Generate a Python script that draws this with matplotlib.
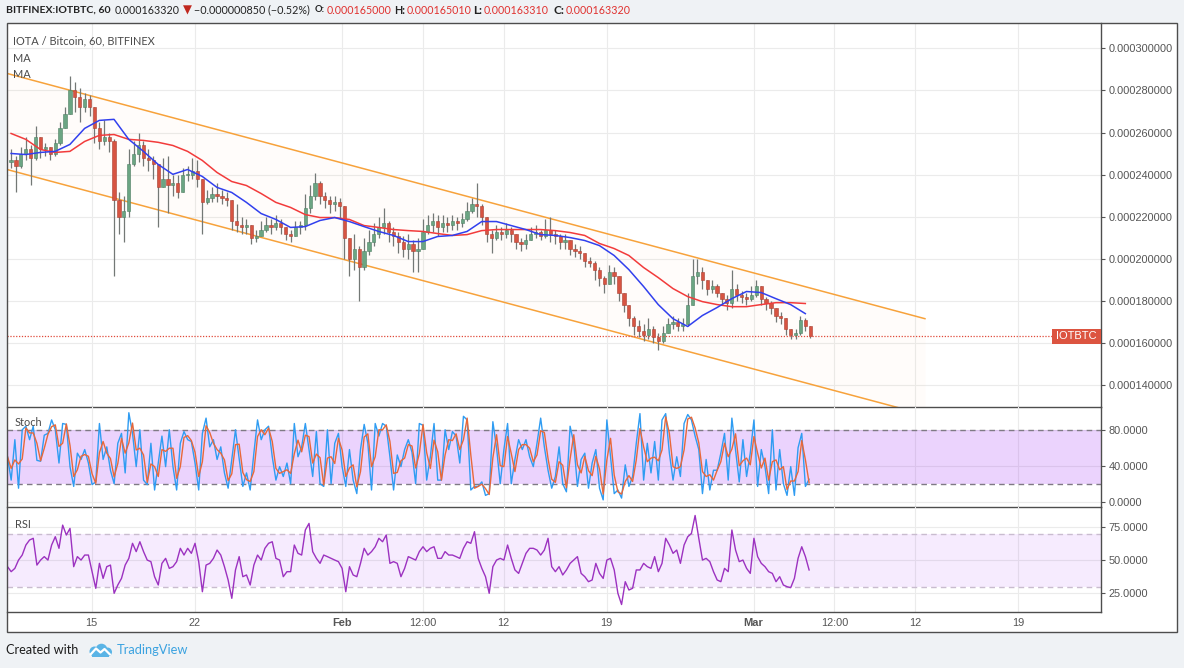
import numpy as np
import pandas as pd
import matplotlib
matplotlib.use("Agg")
import matplotlib.pyplot as plt
from matplotlib.patches import Rectangle, Circle
from matplotlib.ticker import FuncFormatter
import matplotlib.transforms as mtrans

W, H = 1184, 668

# ---------------- data ----------------
price_unit = 1e-6          # values below are in micro-BTC
first_open = 246.0
bar_start_day = 9.517      # day-of-2018 axis (Jan 1 = 1, Feb 1 = 32, Mar 1 = 60)
bar_step_days = 1 / 3      # 8-hour candles

candle_close = [247,244,250,252,248,258,252,253,250,255,
                262,269,280,277,272,276,272,262,256,258,
                256,228,220,223,245,250,254,248,247,245,
                234,238,235,236,232,240,240,242,238,227,
                229,231,230,229,228,218,216,215,216,210,
                211,214,216,215,217,215,212,211,215,216,
                224,230,236,230,228,226,227,225,210,200,
                205,196,204,208,212,215,217,213,211,208,
                205,207,204,205,213,216,218,215,217,216,
                218,217,219,223,226,225,220,212,210,213,
                212,214,212,208,207,209,212,213,211,214,
                212,211,208,209,205,204,203,199,198,195,
                191,188,194,192,184,178,172,168,166,164,
                167,163,161,165,169,170,168,169,178,192,
                194,190,186,187,184,181,179,186,183,182,
                181,183,187,181,179,177,173,172,167,164,
                165,171,168,163.32]
candle_high = [252,249,253,258,254,263,256,255,253,257,
               265,272,287,284,281,279,278,268,265,266,
               260,257,232,230,252,256,260,256,252,249,
               240,248,249,240,240,243,244,248,247,235,
               233,234,236,233,232,224,226,220,219,216,
               214,218,220,219,221,219,215,214,218,218,
               231,235,241,237,232,230,230,229,222,210,
               212,206,210,214,217,220,224,218,215,213,
               211,212,209,210,219,221,222,221,221,220,
               221,220,222,227,229,236,226,217,214,216,
               215,217,215,212,210,212,215,216,214,219,
               220,214,212,212,209,207,206,203,201,199,
               196,192,197,196,190,184,177,173,171,169,
               172,168,165,168,172,173,172,172,184,200,
               200,196,190,190,188,184,183,195,188,185,
               184,187,190,185,182,180,176,175,171,167,
               167,173,172,166]
candle_low = [243,232,243,247,235,247,248,249,247,249,
              254,262,272,270,265,270,268,255,252,254,
              251,192,212,208,220,244,246,244,242,238,
              215,234,222,230,229,234,237,238,234,212,
              226,227,227,226,225,214,213,212,212,207,
              208,211,213,212,214,212,209,208,212,212,
              214,222,228,226,224,222,223,219,200,192,
              195,180,195,202,206,210,212,208,206,203,
              201,200,194,194,205,212,213,211,213,213,
              214,214,215,218,222,220,216,208,203,209,
              209,210,208,205,204,205,209,210,209,210,
              208,207,205,205,202,201,200,196,196,190,
              187,184,189,188,180,175,168,164,163,161,
              162,160,157,160,165,167,166,166,168,180,
              188,186,183,184,182,178,176,177,180,179,
              178,180,182,178,176,174,170,169,164,162,
              162,164,166,162.5]

# moving averages, one value per day (every 3rd candle)
ma_fast = [250.1,249.6,250.6,251.1,254.4,262.0,265.8,266.3,256.8,251.1,
           244.9,240.2,242.5,239.2,234.0,231.6,226.9,221.6,218.8,215.0,
           215.4,218.3,219.7,217.8,215.4,213.1,211.2,208.3,208.3,210.7,
           211.2,213.1,217.8,217.8,215.9,214.0,211.6,211.2,210.2,208.8,
           206.4,201.7,195.0,187.0,178.4,171.7,168.0,173.2,177.0,181.2,
           184.6,184.1,181.2,178.4,174.1]
ma_slow = [259.6,256.8,252.0,250.6,251.1,255.8,258.7,259.1,256.8,256.3,
           255.4,253.9,251.1,246.8,241.1,236.8,234.9,231.1,226.9,224.5,
           221.1,219.7,219.7,218.8,215.9,215.0,214.0,213.5,213.1,212.1,
           211.2,211.6,213.5,214.0,214.0,214.0,214.0,213.5,212.6,211.2,
           207.4,205.0,201.7,196.0,191.2,186.0,182.2,179.8,178.4,177.4,
           177.4,178.4,179.3,179.3,178.9]

channel_days = [9.24, 71.65]
channel_upper = [288.1, 171.7]
channel_lower = [242.5, 126.1]
last_price = 163.32

# oscillators, 6-hour samples
osc_start_day = 9.274
osc_step_days = 0.25
stoch_k = [50,24,69,15,80,84,69,84,46,45,
           74,76,91,80,43,87,86,39,17,54,
           47,58,43,19,22,87,47,61,35,20,
           65,76,32,99,76,39,80,24,19,65,
           13,43,73,39,80,39,13,65,78,69,
           67,43,13,76,93,61,69,47,61,32,
           15,47,80,48,17,32,13,54,91,69,
           80,84,50,24,39,28,43,20,87,50,
           61,87,58,28,78,20,17,80,20,65,
           76,39,17,58,24,9,58,86,65,13,
           87,73,87,84,50,13,52,39,58,69,
           55,20,87,85,24,50,87,24,24,80,
           58,78,73,43,95,91,13,17,17,22,
           7,9,89,60,20,58,87,20,47,69,
           58,69,50,39,65,93,61,35,15,28,
           61,20,11,84,65,17,47,54,15,43,
           58,15,2,91,50,9,13,4,41,17,
           28,65,98,24,65,32,67,24,91,98,
           54,24,50,28,87,97,91,73,58,9,
           47,13,35,35,54,76,24,93,58,22,
           69,28,54,91,17,58,39,9,80,13,
           58,20,7,39,7,60,76,17,25]
rsi_values = [45.2,41.4,43.9,50.2,54.0,61.6,65.4,66.7,46.4,50.2,
              52.8,50.2,61.6,67.9,59.1,76.7,69.2,74.2,45.2,52.8,
              50.2,54.0,54.0,41.4,28.8,47.7,36.3,45.2,46.4,25.0,
              31.3,36.3,46.4,51.5,62.9,56.6,64.1,56.6,50.2,49.0,
              37.6,31.3,47.7,51.5,43.9,45.2,49.0,59.1,54.0,59.1,
              55.3,62.9,49.0,26.2,46.4,47.7,51.5,57.8,54.0,45.2,
              35.1,21.2,42.7,52.8,37.6,38.9,31.3,46.4,54.0,50.2,
              59.1,62.9,64.1,51.5,50.2,37.6,41.4,41.4,61.6,55.3,
              54.0,73.0,78.0,56.6,51.5,47.7,54.0,52.8,51.5,50.2,
              49.0,43.9,26.2,45.2,38.9,37.6,47.7,59.1,54.0,56.6,
              60.3,66.7,64.1,69.2,47.7,49.0,47.7,37.6,43.9,52.8,
              51.5,50.2,56.6,60.3,56.6,59.1,60.3,51.5,51.5,56.6,
              54.0,54.0,52.8,51.5,59.1,64.1,62.9,71.7,51.5,43.9,
              37.6,25.0,45.2,50.2,51.5,50.2,61.6,51.5,42.7,40.1,
              47.7,55.3,59.1,59.1,57.8,54.0,57.8,66.7,45.2,41.4,
              45.2,38.9,42.7,47.7,50.2,52.8,40.1,37.6,33.8,35.1,
              47.7,40.1,36.3,50.2,51.5,42.7,25.0,16.5,33.8,27.5,
              28.8,42.7,42.7,47.7,45.2,43.9,52.8,41.4,47.7,66.7,
              61.6,55.3,57.8,47.7,61.6,67.9,70.4,84.0,66.7,50.2,
              51.5,49.0,41.4,35.1,33.8,43.9,41.4,73.0,57.8,49.0,
              50.2,43.9,40.1,66.7,52.8,47.7,45.2,41.4,40.1,33.8,
              37.6,31.3,30.0,29.3,36.3,51.5,60.3,52.8,42.7]

x_tick_days = [15, 22, 32, 37.5, 43, 50, 60, 65.5, 71, 78]
x_tick_labels = ['15', '22', 'Feb', '12:00', '12', '19', 'Mar', '12:00', '12', '19']
bold_tick_labels = ['Feb', 'Mar']
price_ticks = [140, 160, 180, 200, 220, 240, 260, 280, 300]
stoch_ticks = [0, 40, 80]
rsi_ticks = [25, 50, 75]

header_symbol = 'BITFINEX:IOTBTC, 60'
header_last = '0.000163320'
header_change = '\u22120.000000850 (\u22120.52%)'
ohlc_labels = ['O:', 'H:', 'L:', 'C:']
ohlc_values = ['0.000165000', '0.000165010', '0.000163310', '0.000163320']
legend_title = 'IOTA / Bitcoin, 60, BITFINEX'
ma_labels = ['MA', 'MA']
price_tag = 'IOTBTC'

# ---------------- styling ----------------
plt.rcParams['font.family'] = ['Liberation Sans', 'DejaVu Sans']
UI_FONT = ['Lato', 'DejaVu Sans']
BG = '#eff2f5'
FRAME = '#4d4d4d'
AXTXT = '#555555'
GRID = '#ebebeb'

fig = plt.figure(figsize=(W / 100, H / 100), dpi=100, facecolor=BG)
renderer = fig.canvas.get_renderer()

# white chart area + frame
fig.add_artist(Rectangle((7 / W, 1 - 631.7 / H), 1170 / W, (631.7 - 23.3) / H,
                         transform=fig.transFigure, fc='white', ec='none', zorder=-5))
fig.add_artist(Rectangle((7 / W, 1 - 631.7 / H), 1170 / W, (631.7 - 23.3) / H,
                         transform=fig.transFigure, fc='none', ec=FRAME, lw=1.0, zorder=20))

L = 7 / W
AW = 1094 / W
ax_p = fig.add_axes([L, 1 - 406.7 / H, AW, (406.7 - 23.3) / H])
ax_s = fig.add_axes([L, 1 - 507.3 / H, AW, (507.3 - 406.7) / H], sharex=ax_p)
ax_r = fig.add_axes([L, 1 - 612.3 / H, AW, (612.3 - 507.3) / H], sharex=ax_p)

XL = (9.24, 83.62)


def setup(ax, ylim, ticks, fmt):
    ax.set_facecolor('none')
    ax.set_xlim(*XL)
    ax.set_ylim(*ylim)
    ax.yaxis.tick_right()
    ax.set_yticks(ticks)
    ax.yaxis.set_major_formatter(FuncFormatter(fmt))
    ax.tick_params(axis='y', direction='out', length=3, width=0.8, color=AXTXT,
                   pad=2.2, labelsize=7.9, labelcolor=AXTXT)
    ax.set_xticks(x_tick_days)
    ax.tick_params(axis='x', length=0, labelbottom=False)
    ax.grid(True, color=GRID, lw=0.8)
    ax.set_axisbelow(True)
    for s in ['left', 'top']:
        ax.spines[s].set_visible(False)
    for s in ['right', 'bottom']:
        ax.spines[s].set_color(FRAME)
        ax.spines[s].set_linewidth(1.0)


setup(ax_p, (129.93 * price_unit, 311.88 * price_unit),
      [v * price_unit for v in price_ticks], lambda v, p: f'{v:.9f}')
setup(ax_s, (-6.25, 105.7), stoch_ticks, lambda v, p: f'{v:.4f}')
setup(ax_r, (10.6, 90.2), rsi_ticks, lambda v, p: f'{v:.4f}')

ax_r.set_xticks(x_tick_days, labels=x_tick_labels)
ax_r.tick_params(axis='x', length=0, labelbottom=True, pad=4, labelsize=7.9, labelcolor=AXTXT)
for lab in ax_r.get_xticklabels():
    if lab.get_text() in bold_tick_labels:
        lab.set_fontweight('bold')

# ---------------- price panel ----------------
close = np.array(candle_close) * price_unit
openp = np.concatenate([[first_open * price_unit], close[:-1]])
high = np.maximum.reduce([np.array(candle_high) * price_unit, openp, close])
low = np.minimum.reduce([np.array(candle_low) * price_unit, openp, close])
t_bar = bar_start_day + np.arange(len(close)) * bar_step_days

ch_x = np.array(channel_days)
ch_u = np.array(channel_upper) * price_unit
ch_l = np.array(channel_lower) * price_unit
ax_p.fill_between(ch_x, ch_l, ch_u, color=(1.0, 0.6, 0.25, 0.022), lw=0, zorder=1)
ax_p.plot(ch_x, ch_u, color='#f7a23b', lw=1.1, zorder=2)
ax_p.plot(ch_x, ch_l, color='#f7a23b', lw=1.1, zorder=2)

ax_p.vlines(t_bar, low, high, color='#737876', lw=0.9, zorder=3)
up = close >= openp
body_bot = np.minimum(openp, close)
body_h = np.maximum(np.abs(close - openp), 0.35 * price_unit)
ax_p.bar(t_bar[up], body_h[up], bottom=body_bot[up], width=0.22,
         color='#6ba583', ec='#4f7f63', lw=0.4, zorder=4)
ax_p.bar(t_bar[~up], body_h[~up], bottom=body_bot[~up], width=0.22,
         color='#d75442', ec='#a84032', lw=0.4, zorder=4)

t_ma = t_bar[::3]
ax_p.plot(t_ma, np.array(ma_slow) * price_unit, color='#f23b3b', lw=1.1, zorder=5)
ax_p.plot(t_ma, np.array(ma_fast) * price_unit, color='#3140ee', lw=1.1, zorder=6)

lp = last_price * price_unit
ax_p.axhline(lp, color='#e04a3a', lw=0.9, ls=(0, (1, 1.3)), zorder=5)
# price tag box at right edge
blend = mtrans.blended_transform_factory(ax_p.transAxes, ax_p.transData)
ylo, yhi = ax_p.get_ylim()
units_per_px = (yhi - ylo) / ax_p.bbox.height
box_h = 15 * units_per_px
box_w = 49 / ax_p.bbox.width
ax_p.add_patch(Rectangle((1 - box_w, lp - box_h / 2), box_w, box_h, transform=blend,
                         fc='#dc5440', ec='none', zorder=10, clip_on=False))
ax_p.text(1 - box_w / 2, lp, price_tag, transform=blend, ha='center', va='center',
          color='white', fontsize=8, zorder=11)

# ---------------- stochastic panel ----------------
t_osc = osc_start_day + np.arange(len(stoch_k)) * osc_step_days
k = np.array(stoch_k, dtype=float)
d = pd.Series(k).rolling(2, min_periods=1).mean().values   # %D smoothing of %K
ax_s.axhspan(20, 80, color='#9c27f5', alpha=0.2, lw=0, zorder=0.6)
for lvl in (20, 80):
    ax_s.axhline(lvl, color='#7f7a84', lw=1.0, ls=(0, (4, 3)), zorder=1)
ax_s.plot(t_osc, k, color='#2f9cf2', lw=1.0, zorder=3)
ax_s.plot(t_osc, d, color='#e8683a', lw=1.0, zorder=4)

# ---------------- RSI panel ----------------
t_rsi = osc_start_day + np.arange(len(rsi_values)) * osc_step_days
ax_r.axhspan(30, 70, color='#9c27f5', alpha=0.09, lw=0, zorder=0.6)
for lvl in (30, 70):
    ax_r.axhline(lvl, color='#c9bccf', lw=1.0, ls=(0, (4, 3)), zorder=1)
ax_r.plot(t_rsi, rsi_values, color='#9c32c0', lw=1.0, zorder=3)


# ---------------- texts ----------------
def px_text(x0, yc, s, width=None, size=9.0, **kw):
    t = fig.text(x0 / W, 1 - yc / H, s, ha='left', va='center', fontsize=size, **kw)
    if width:
        w = t.get_window_extent(renderer=renderer).width
        t.set_fontsize(size * width / w)
    return t


HDR = '#222222'
RED = '#e0312f'
px_text(6, 10, header_symbol, 104, weight='bold', color=HDR, family=UI_FONT)
px_text(115, 10, header_last, 64, color=HDR, family=UI_FONT)
px_text(183, 10, '\u25bc', 9, color='#c0281f', family=['DejaVu Sans'])
px_text(194, 10, header_change, 116, color=HDR, family=UI_FONT)
ohlc_x = [(315, 327, 10), (394, 407, 11), (473, 484, 9), (553, 566, 11)]
for (xl, xv, wl), lab, val in zip(ohlc_x, ohlc_labels, ohlc_values):
    px_text(xl, 10, lab, wl, weight='bold', color=HDR, family=UI_FONT)
    px_text(xv, 10, val, 64, color=RED, family=UI_FONT)

t_leg = px_text(13, 41, legend_title, 141, color='#4a4a4a', family=UI_FONT)
fs_leg = t_leg.get_fontsize()
px_text(13, 58, ma_labels[0], None, size=fs_leg, color='#4a4a4a', family=UI_FONT)
px_text(13, 75, ma_labels[1], None, size=fs_leg, color='#4a4a4a', family=UI_FONT)
px_text(15, 423, 'Stoch', None, size=fs_leg, color='#4a4a4a', family=UI_FONT)
px_text(15, 524, 'RSI', None, size=fs_leg, color='#4a4a4a', family=UI_FONT)

# footer
px_text(6, 650, 'Created with', 73, color='#1e1e1e', family=UI_FONT)
px_text(117, 650, 'TradingView', 72, color='#3aa2e0', family=UI_FONT)
logo = fig.add_axes([87 / W, 1 - 658 / H, 26 / W, 16 / H])
logo.set_xlim(0, 26)
logo.set_ylim(0, 16)
logo.axis('off')
LB = '#5ab4e6'
for (cx, cy, r) in [(7.5, 6.5, 5.0), (14.5, 8.5, 5.8), (20.5, 6.0, 4.5)]:
    logo.add_patch(Circle((cx, cy), r, fc=LB, ec='none'))
logo.add_patch(Rectangle((5, 1.5), 17, 5, fc=LB, ec='none'))
logo.plot([3.5, 9, 13.5, 17.5, 23], [3.5, 9.5, 5.5, 9.0, 3.5], color='white', lw=1.6,
          solid_capstyle='round', solid_joinstyle='round')

fig.savefig('out.png', dpi=100, facecolor=fig.get_facecolor())
